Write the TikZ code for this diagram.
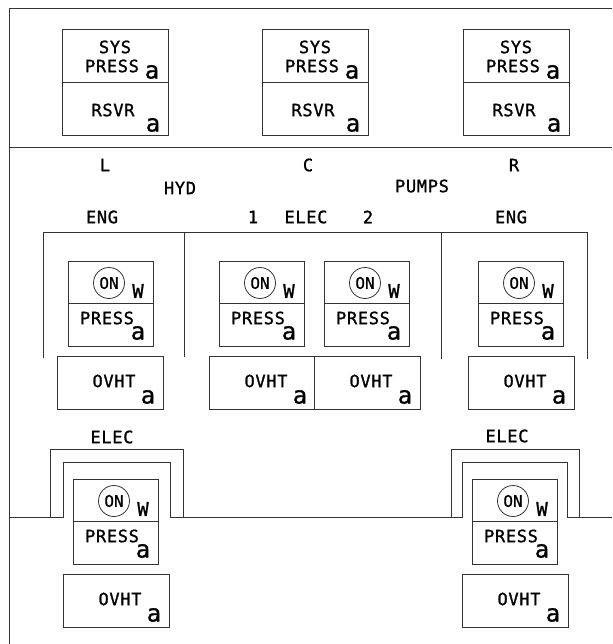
\documentclass[tikz,border=0pt]{standalone}
\usepackage{fontspec}
\setmainfont{DejaVu Sans Mono}[LetterSpace=4, FakeBold=1.2]
\newfontfamily\bigf{DejaVu Sans Mono}[FakeBold=1]
\tikzset{
  ln/.style={line width=1pt, draw=black!80},
  lbl/.style={font=\fontsize{17}{17}\selectfont, inner sep=0pt, anchor=center},
  biga/.style={font=\bigf\fontsize{24}{24}\selectfont, inner sep=0pt},
  bigw/.style={font=\bigf\fontsize{19}{19}\selectfont, inner sep=0pt},
  onc/.style={circle, draw=black!80, line width=0.8pt, minimum size=31pt, inner sep=0pt, font=\bigf\fontsize{16}{16}\selectfont}
}
\newcommand\mytopbox[2]{%
  \begin{scope}[shift={(#2,30)}]
    \draw[ln] (0,0) rectangle (106,106);
    \draw[ln] (0,53) -- (106,53);
    \node[lbl] (#1sys) at (53,17) {SYS};
    \node[lbl] (#1press) at (50,36) {PRESS};
    \node[biga] (#1aa) at (90,42) {a};
    \node[lbl] (#1rsvr) at (51,80) {RSVR};
    \node[biga] (#1ab) at (91,95) {a};
  \end{scope}}
\newcommand\myonbox[3]{%
  \begin{scope}[shift={(#2,#3)}]
    \draw[ln] (0,0) rectangle (85,85);
    \draw[ln] (0,42) -- (85,42);
    \node[onc] (#1on) at (41,22) {ON};
    \node[bigw] (#1w) at (70,30) {W};
    \node[lbl] (#1press) at (39,57) {PRESS};
    \node[biga] (#1a) at (70,72) {a};
  \end{scope}}
\newcommand\myovhtbox[4]{%
  \begin{scope}[shift={(#2,#3)}]
    \draw[ln] (0,0) rectangle (#4,53);
    \node[lbl] (#1ovht) at (57,25) {OVHT};
    \node[biga] (#1a) at (91,41) {a};
  \end{scope}}
\begin{document}
\begin{tikzpicture}[x=1pt,y=-1pt]
  \useasboundingbox (0,0) rectangle (612,644);
  % frame
  \draw[ln] (612,9) -- (9,9) -- (9,644);
  \draw[ln] (9,148) -- (612,148);
  % top boxes
  \mytopbox{tl}{62}
  \mytopbox{tc}{262}
  \mytopbox{tr}{463}
  % labels
  \node[lbl] (lL) at (105,165) {L};
  \node[lbl] (lC) at (308,165) {C};
  \node[lbl] (lR) at (514,165) {R};
  \node[lbl] (lhyd) at (180,188) {HYD};
  \node[lbl] (lpumps) at (422,186) {PUMPS};
  \node[lbl] (lengl) at (102,217) {ENG};
  \node[lbl] (lone) at (253,217) {1};
  \node[lbl] (lelec) at (306,217) {ELEC};
  \node[lbl] (ltwo) at (368,217) {2};
  \node[lbl] (lengr) at (511,217) {ENG};
  % pump bracket
  \draw[ln] (43,358) -- (43,232) -- (587,232) -- (587,359);
  \draw[ln] (184,232) -- (184,357);
  \draw[ln] (441,232) -- (441,359);
  % upper pump boxes
  \myonbox{pl}{68}{261}
  \myonbox{pc}{219}{261}
  \myonbox{pd}{324}{261}
  \myonbox{pr}{478}{261}
  \myovhtbox{ol}{57}{356}{106}
  \myovhtbox{oc}{209}{356}{105}
  \myovhtbox{od}{314}{356}{106}
  \myovhtbox{or}{468}{356}{106}
  % bottom
  \node[lbl] (belecl) at (112,437) {ELEC};
  \node[lbl] (belecr) at (507,436) {ELEC};
  \draw[ln] (9,517) -- (63,517) -- (63,462) -- (170,462) -- (170,517) -- (462,517) -- (462,462) -- (567,462) -- (567,517) -- (612,517);
  \draw[ln] (50,517) -- (50,449) -- (183,449) -- (183,517);
  \draw[ln] (451,517) -- (451,449) -- (579,449) -- (579,517);
  \myonbox{bl}{73}{479}
  \myonbox{br}{472}{479}
  \myovhtbox{obl}{63}{574}{106}
  \myovhtbox{obr}{462}{574}{106}
\end{tikzpicture}
\end{document}
